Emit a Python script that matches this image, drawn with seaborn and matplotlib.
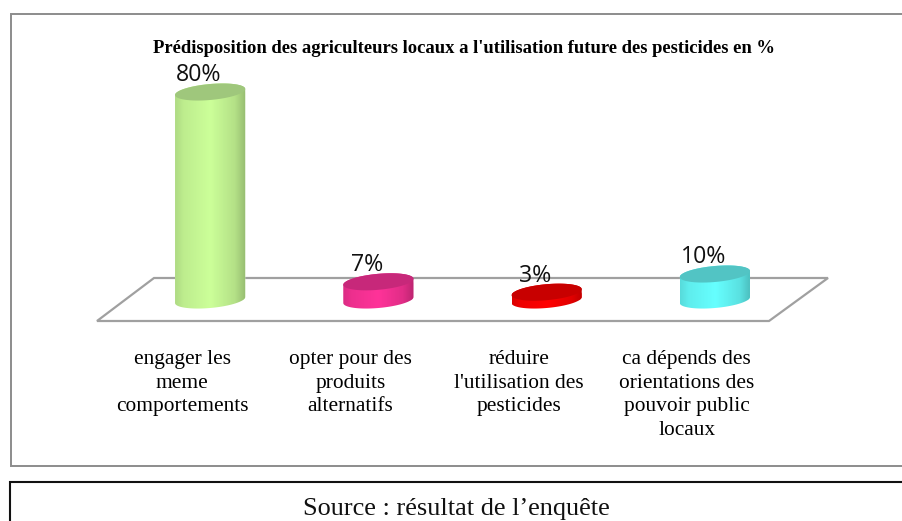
import numpy as np
import pandas as pd
import matplotlib
matplotlib.use('Agg')
import matplotlib.pyplot as plt
from matplotlib.patches import Polygon, Rectangle
from matplotlib.transforms import ScaledTranslation
import seaborn as sns

title = "Prédisposition des agriculteurs locaux a l'utilisation future des pesticides en %"
source = "Source : résultat de l’enquête"
categories = ["engager les\nmeme\ncomportements",
              "opter pour des\nproduits\nalternatifs",
              "réduire\nl'utilisation des\npesticides",
              "ca dépends des\norientations des\npouvoir public\nlocaux"]
values = [80, 7, 3, 10]
front_colors = ["#ccff99", "#ff3399", "#ff0000", "#66ffff"]
top_colors = ["#9fc77c", "#c7287a", "#c80000", "#52c4c4"]

W, H = 902, 521
sns.set_style("white")
plt.rcParams['font.family'] = ['Liberation Serif', 'DejaVu Serif']
plt.rcParams['text.color'] = 'black'
plt.rcParams['xtick.color'] = 'black'
plt.rcParams['xtick.labelcolor'] = 'black'

fig = plt.figure(figsize=(W / 100, H / 100), dpi=100)
# axes box in pixels: one category = 168.25 px, one percent = 2.6 px
ax = fig.add_axes([126 / W, 1 - 321 / H, 673 / W, 281 / H])
ax.patch.set_visible(False)

df = pd.DataFrame({"cat": categories, "val": values})
sns.barplot(data=df, x="cat", y="val", hue="cat", palette=front_colors,
            width=0.417, legend=False, saturation=1, ax=ax)

px_x = 168.25
px_y = 2.6
ell_h = 8 / px_y     # half height of the ellipses
tilt = 3 / px_y      # left end sits lower than the right one
t = np.linspace(0, 2 * np.pi, 120)


def ellipse(cx, cy, half_w, t):
    return np.column_stack([cx + half_w * np.cos(t),
                            cy + ell_h * np.sin(t) + tilt * np.cos(t)])


for i, cont in enumerate(ax.containers):
    bar = cont[0]
    cx = bar.get_x() + bar.get_width() / 2
    half_w = bar.get_width() / 2
    v = bar.get_height()
    # cylinder body: upper half of the top ellipse + lower half of the bottom one
    up = ellipse(cx, v, half_w, np.linspace(0, np.pi, 60))
    low = ellipse(cx, 0, half_w, np.linspace(np.pi, 2 * np.pi, 60))
    body = Polygon(np.vstack([up, low]), closed=True, fc='none', ec='none',
                   transform=ax.transData)
    ax.add_patch(body)
    bar.set_clip_path(body)
    # side shading
    base = np.array(matplotlib.colors.to_rgb(front_colors[i]))
    pos = np.linspace(0, 1, 80)
    shade = np.interp(pos, [0, 0.12, 0.5, 0.85, 1], [0.86, 0.93, 1.0, 0.88, 0.74])
    grad = np.clip(base[None, :] * shade[:, None], 0, 1)[None, :, :]
    im = ax.imshow(grad, extent=[cx - half_w, cx + half_w, -ell_h - tilt, v + ell_h + tilt],
                   aspect='auto', zorder=3, interpolation='bilinear')
    im.set_clip_path(body)
    ax.add_patch(Polygon(ellipse(cx, v, half_w, t), closed=True, fc=top_colors[i],
                         ec='none', zorder=4))
    ax.annotate(f"{values[i]}%", (cx, v), xytext=(-8, 12), textcoords='offset points',
                ha='center', va='center', fontsize=16.7, family=['Open Sans', 'DejaVu Sans'],
                color='#111111', zorder=5, annotation_clip=False)

ax.set_xlim(-0.5, 3.5)
ax.set_ylim(-21 / px_y, 260 / px_y)
ax.set_xlabel("")
ax.set_ylabel("")
ax.set_yticks([])
ax.tick_params(axis='x', length=0, pad=21, labelsize=15.4)
offset = ScaledTranslation(-28 / 100, 0, fig.dpi_scale_trans)
for lab in ax.get_xticklabels():
    lab.set_transform(lab.get_transform() + offset)
    lab.set_linespacing(1.33)
sns.despine(ax=ax, left=True, bottom=True)
ax.set_title(title, fontsize=13.4, fontweight='bold', y=0.923, x=0.5025)

# floor, frames and source line, placed in figure pixels
def fig_xy(pts):
    return [(x / W, 1 - y / H) for x, y in pts]


fig.add_artist(Polygon(fig_xy([(97, 321), (154, 278), (828, 278), (769, 321)]), closed=True,
                       fc='white', ec='#a0a0a0', lw=1.6, zorder=-1, transform=fig.transFigure))
fig.add_artist(Rectangle((11 / W, 1 - 466 / H), 895 / W, 452 / H, fc='white', ec='#8c8c8c',
                         lw=1.4, zorder=-2, transform=fig.transFigure))
fig.add_artist(Rectangle((10 / W, 1 - 530 / H), 896 / W, 48 / H, fc='white', ec='#111111',
                         lw=1.5, zorder=-2, transform=fig.transFigure))
fig.text(456 / W, 1 - 509.5 / H, source, ha='center', va='center', fontsize=18.9, color='#111111')

fig.savefig("out.png", dpi=100)
